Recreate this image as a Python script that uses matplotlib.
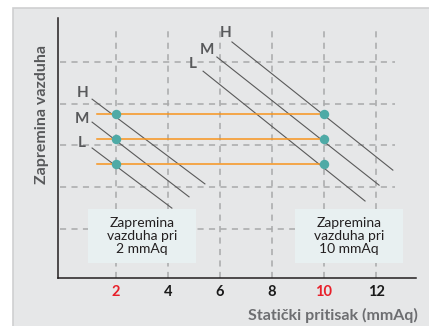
import matplotlib.pyplot as plt
from matplotlib.patches import Rectangle

# operating points at 2 and 10 mmAq for H / M / L fan speeds
speeds = ['H', 'M', 'L']
point_x = [2, 10]
point_y = [3.75, 3.15, 2.55]
orange_start = 1.27

# characteristic lines (x0, y0, x1, y1) for each speed
low_lines = {'H': (1.08, 4.11, 5.42, 2.08),
             'M': (1.08, 3.56, 4.81, 1.77),
             'L': (1.08, 2.94, 4.15, 1.50)}
high_lines = {'H': (6.46, 5.48, 12.65, 2.41),
              'M': (5.88, 5.12, 12.12, 2.05),
              'L': (5.35, 4.78, 11.58, 1.67)}
low_labels = {'H': (0.73, 4.26), 'M': (0.69, 3.63), 'L': (0.69, 3.06)}
high_labels = {'H': (6.23, 5.69), 'M': (5.50, 5.29), 'L': (4.96, 4.95)}

xticks = [2, 4, 6, 8, 10, 12]
tick_colors = ['#e8202a', '#1a1a1a', '#1a1a1a', '#1a1a1a', '#e8202a', '#1a1a1a']
grid_y = [1, 2, 3, 4, 5]

box_text = ['Zapremina\nvazduha pri\n2 mmAq', 'Zapremina\nvazduha pri\n10 mmAq']
box_x = [0.92, 8.88]

plt.rcParams['font.family'] = ['Lato', 'DejaVu Sans']

fig = plt.figure(figsize=(4.29, 3.26), dpi=100)
fig.patch.set_facecolor('white')
# light grey panel behind the chart
fig.add_artist(Rectangle((13 / 429, -0.01), 1.0, 318 / 326 + 0.01, transform=fig.transFigure,
                         facecolor='#e6e7e8', edgecolor='#cfd0d1', linewidth=1.2, zorder=0))

ax = fig.add_axes([58 / 429, 48 / 326, 358 / 429, 260 / 326])
ax.set_facecolor('none')
ax.set_xlim(-0.231, 13.54)
ax.set_ylim(-0.174, 6.054)

grid_kw = dict(color='#a8a9aa', linewidth=1.1, dashes=(4, 3.5), zorder=1)
for gy in grid_y:
    ax.plot([-0.15, 12.73], [gy, gy], **grid_kw)
for gx in xticks:
    ax.plot([gx, gx], [-0.174, 5.86], **grid_kw)

for s in speeds:
    for lines in (low_lines, high_lines):
        x0, y0, x1, y1 = lines[s]
        ax.plot([x0, x1], [y0, y1], color='#5a5a5a', linewidth=0.8, zorder=2)
    for labels in (low_labels, high_labels):
        lx, ly = labels[s]
        ax.text(lx, ly, s, fontsize=11, fontweight='bold', color='#58595b',
                ha='center', va='center', zorder=3)

for py in point_y:
    ax.plot([orange_start, point_x[1]], [py, py], color='#f7941d', linewidth=1.1, zorder=3)
    ax.plot(point_x, [py, py], 'o', color='#4eaaa6', markersize=6.8, markeredgewidth=0, zorder=4)

for bx, txt in zip(box_x, box_text):
    ax.add_patch(Rectangle((bx, 0.186), 4.16, 1.294, facecolor='#e8f0f1', edgecolor='none', zorder=3))
    ax.text(bx + 2.08, 0.84, txt, fontsize=10, color='#231f20', ha='center', va='center',
            linespacing=1.1, zorder=4)

for side in ['top', 'right']:
    ax.spines[side].set_visible(False)
for side in ['left', 'bottom']:
    ax.spines[side].set_color('#231f20')
    ax.spines[side].set_linewidth(1.1)

ax.set_xticks(xticks)
ax.set_xticklabels([str(t) for t in xticks], fontsize=10.5, fontweight='bold')
for lbl, c in zip(ax.get_xticklabels(), tick_colors):
    lbl.set_color(c)
ax.tick_params(axis='x', length=0, pad=5)
ax.set_yticks([])

ax.set_xlabel('Statički pritisak (mmAq)', fontsize=11.5, fontweight='bold', color='#6d6e71')
ax.xaxis.set_label_coords(1.005, -0.115)
ax.xaxis.label.set_horizontalalignment('right')
ax.set_ylabel('Zapremina vazduha', fontsize=11.5, fontweight='bold', color='#58595b')
ax.yaxis.set_label_coords(-0.026, 0.63)

fig.savefig('out.png', dpi=100)
